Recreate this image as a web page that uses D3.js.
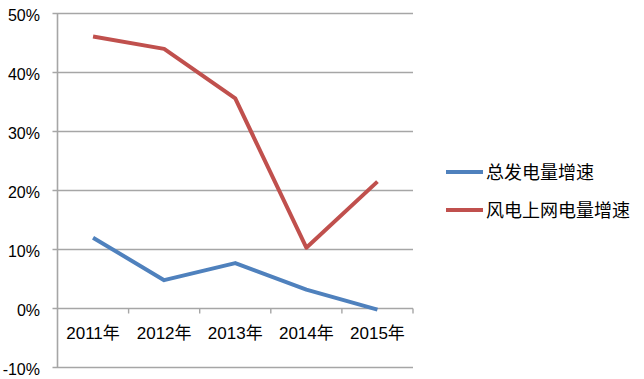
<!DOCTYPE html>
<html><head><meta charset="utf-8">
<script src="https://cdn.jsdelivr.net/npm/d3@7"></script>
<style>body{margin:0;background:#fff}</style>
</head><body>
<svg id="c" width="644" height="379"></svg>
<script>
const categories = ["2011年","2012年","2013年","2014年","2015年"];
const totalGrowth = [12.0, 4.8, 7.7, 3.2, -0.2];
const windGrowth = [46.1, 44.0, 35.6, 10.3, 21.5];
const seriesNames = ["总发电量增速","风电上网电量增速"];
const yTicks = [-10, 0, 10, 20, 30, 40, 50];
const colors = ["#4F81BD","#C0504D"];

const svg = d3.select("#c");
const mLeft = 57.5, mRight = 413, mTop = 13.5, mBottom = 367.5;
const font = "'Liberation Sans','Noto Sans CJK SC',sans-serif";
const cjk = "'Noto Sans CJK SC',sans-serif";

const x = d3.scaleBand().domain(categories).range([mLeft, mRight]);
const y = d3.scaleLinear().domain([-10, 50]).range([mBottom, mTop]);

// gridlines
svg.append("g").selectAll("line").data(yTicks).join("line")
  .attr("x1", mLeft - 5).attr("x2", mRight)
  .attr("y1", d => y(d)).attr("y2", d => y(d))
  .attr("stroke", "#A6A6A6").attr("stroke-width", 1.6);

// y axis line
svg.append("line").attr("x1", mLeft).attr("x2", mLeft).attr("y1", mTop).attr("y2", mBottom)
  .attr("stroke", "#A6A6A6").attr("stroke-width", 1.6);

// y tick labels
svg.append("g").selectAll("text").data(yTicks).join("text")
  .attr("x", 40).attr("y", d => y(d) + 7.5)
  .attr("text-anchor", "end").attr("font-family", font).attr("font-size", 16)
  .attr("fill", "#000").text(d => d + "%");

// x axis tick marks at category boundaries on the 0 line
const bounds = categories.map(c => x(c) + x.bandwidth());
svg.append("g").selectAll("line").data(bounds).join("line")
  .attr("x1", d => d).attr("x2", d => d)
  .attr("y1", y(0)).attr("y2", y(0) + 5)
  .attr("stroke", "#A6A6A6").attr("stroke-width", 1.4);

// x labels
svg.append("g").selectAll("text").data(categories).join("text")
  .attr("x", d => x(d) + x.bandwidth() / 2).attr("y", y(0) + 30)
  .attr("text-anchor", "middle").attr("font-family", font).attr("font-size", 17)
  .attr("fill", "#000").text(d => d);

// lines
const line = d3.line().x((d, i) => x(categories[i]) + x.bandwidth() / 2).y(d => y(d));
[totalGrowth, windGrowth].forEach((s, i) => {
  svg.append("path").attr("d", line(s)).attr("fill", "none")
    .attr("stroke", colors[i]).attr("stroke-width", 4)
    .attr("stroke-linejoin", "round");
});

// legend
const legY = [172, 210];
seriesNames.forEach((n, i) => {
  svg.append("line").attr("x1", 446).attr("x2", 483).attr("y1", legY[i]).attr("y2", legY[i])
    .attr("stroke", colors[i]).attr("stroke-width", 4);
  svg.append("text").attr("x", 486).attr("y", legY[i] + 7)
    .attr("font-family", cjk).attr("font-size", 18).attr("fill", "#000").text(n);
});
</script>
</body></html>
